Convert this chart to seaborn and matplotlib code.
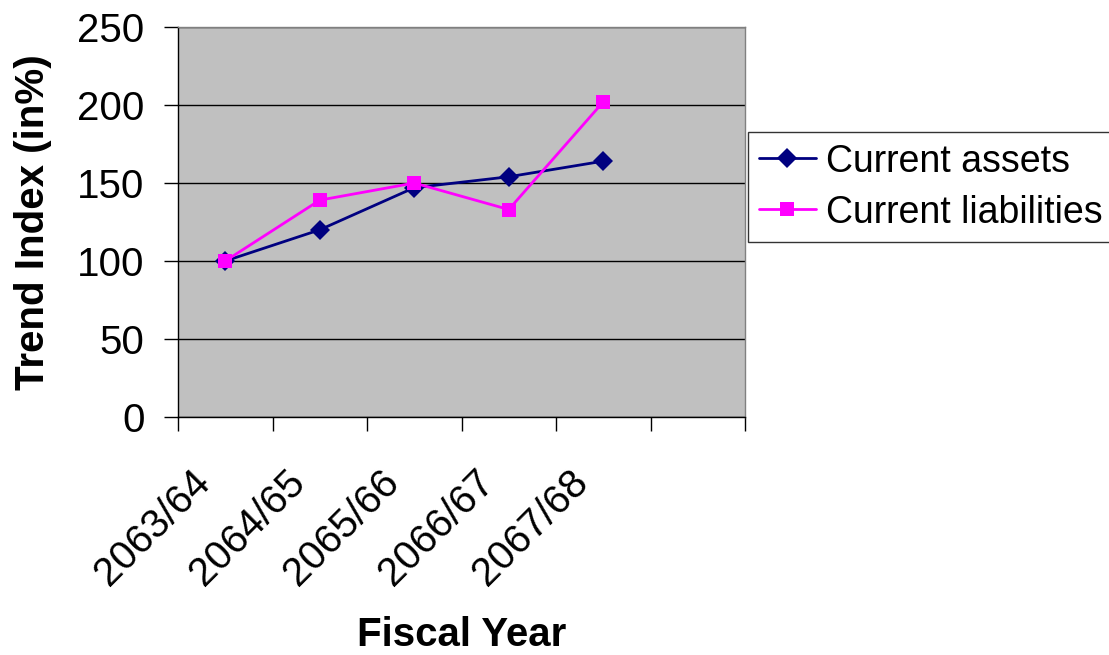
import matplotlib
matplotlib.use("Agg")
import matplotlib.pyplot as plt
from matplotlib.transforms import ScaledTranslation
import numpy as np
import pandas as pd
import seaborn as sns

# Data
years = ['2063/64', '2064/65', '2065/66', '2066/67', '2067/68']
current_assets = [100, 120, 147, 154, 164]
current_liabilities = [100, 139, 150, 133, 202]

df = pd.DataFrame({
    'pos': list(range(len(years))) * 2,
    'value': current_assets + current_liabilities,
    'series': ['Current assets'] * len(years) + ['Current liabilities'] * len(years),
})

sns.set_style('white')
plt.rcParams['font.family'] = ['Liberation Sans', 'DejaVu Sans']
plt.rcParams['text.color'] = 'black'
plt.rcParams['axes.labelcolor'] = 'black'
plt.rcParams['xtick.color'] = 'black'
plt.rcParams['ytick.color'] = 'black'

fig = plt.figure(figsize=(11.09, 6.55), dpi=100)
ax = fig.add_axes([178 / 1109, 1 - 417 / 655, (745 - 178) / 1109, (417 - 27) / 655])
ax.set_facecolor('#C0C0C0')

sns.lineplot(data=df, x='pos', y='value', hue='series', style='series',
             palette={'Current assets': '#000080', 'Current liabilities': '#FF00FF'},
             markers={'Current assets': 'D', 'Current liabilities': 's'},
             dashes=False, markersize=10.5, markeredgewidth=0, linewidth=2,
             ax=ax, zorder=3)

ax.set_ylim(0, 250)
ax.set_yticks(range(0, 251, 50))
ax.yaxis.grid(True, color='black', linewidth=1)
ax.set_axisbelow(True)

# six category slots, only five used
ax.set_xlim(-0.5, 5.5)
ax.set_xticks(np.arange(-0.5, 6, 1))
ax.set_xticklabels([])
ax.set_xticks(range(len(years)), minor=True)
ax.set_xticklabels(years, minor=True, rotation=45, ha='right', va='center',
                   rotation_mode='anchor', fontsize=29)
ax.tick_params(axis='x', which='minor', length=0, pad=43)
ax.tick_params(axis='x', which='major', length=10, width=1, direction='out', bottom=True)
ax.tick_params(axis='y', length=10, width=1, direction='out', left=True, labelsize=29, pad=14)
shift = ScaledTranslation(-21 / 100, 0, fig.dpi_scale_trans)
for lab in ax.get_xticklabels(minor=True):
    lab.set_transform(lab.get_transform() + shift)

for side in ['left', 'bottom']:
    ax.spines[side].set_color('black')
    ax.spines[side].set_linewidth(1)
for side in ['top', 'right']:
    ax.spines[side].set_color('#808080')
    ax.spines[side].set_linewidth(1)

ax.set_ylabel('Trend Index (in%)', fontsize=29, fontweight='bold', labelpad=18)
ax.set_xlabel('Fiscal Year', fontsize=29, fontweight='bold')
ax.xaxis.set_label_coords(0.5, -0.51)

handles, labels = ax.get_legend_handles_labels()
leg = ax.legend(handles, labels, loc='center left', bbox_to_anchor=(748 / 1109, 1 - 187 / 655),
                bbox_transform=fig.transFigure, fontsize=27, frameon=True, fancybox=False,
                edgecolor='black', borderpad=0.3, handlelength=1.5, handletextpad=0.27,
                labelspacing=0.4, borderaxespad=0)
leg.get_frame().set_linewidth(1)
for h in leg.legend_handles:
    h.set_markersize(10)

fig.savefig('out.png', dpi=100)
